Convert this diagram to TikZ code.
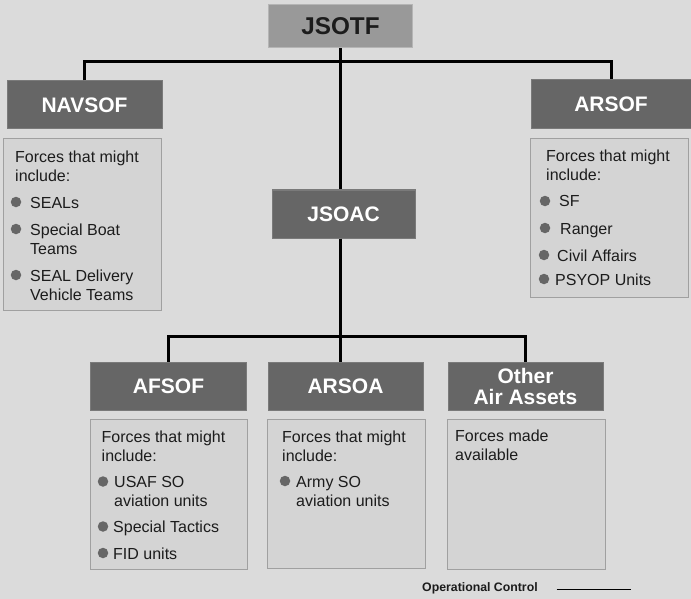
\documentclass[tikz,border=0pt]{standalone}
\usepackage{fontspec}
\setmainfont{Liberation Sans}
\definecolor{bgcol}{HTML}{DBDBDB}
\definecolor{boxcol}{HTML}{D4D4D4}
\definecolor{boxline}{HTML}{A0A0A0}
\definecolor{hdrcol}{HTML}{666666}
\definecolor{hdrline}{HTML}{7A7A7A}
\definecolor{topcol}{HTML}{999999}
\definecolor{topline}{HTML}{B5B5B5}
\definecolor{inkcol}{HTML}{1C1C1C}
\definecolor{dotcol}{HTML}{666666}
\tikzset{
  hdr/.style={rectangle, fill=hdrcol, draw=hdrline, line width=1pt, inner sep=0pt,
    minimum width=155pt, minimum height=48pt, text=white, align=center,
    font=\fontsize{21}{21}\selectfont\bfseries},
  topbox/.style={rectangle, fill=topcol, draw=topline, line width=1pt, inner sep=0pt,
    minimum width=144pt, minimum height=43pt, text=inkcol,
    font=\fontsize{24.3}{26}\selectfont\bfseries},
  panel/.style={rectangle, fill=boxcol, draw=boxline, line width=1pt, inner sep=0pt,
    minimum width=158pt},
  txt/.style={anchor=base west, inner sep=0pt, text=inkcol,
    font=\fontsize{16}{19}\selectfont},
  dot/.style={circle, fill=dotcol, inner sep=0pt, minimum size=10.5pt},
  conn/.style={line width=3pt, draw=black},
  legtxt/.style={anchor=base west, inner sep=0pt, text=inkcol,
    font=\fontsize{12.3}{14}\selectfont\bfseries},
}
\begin{document}
\begin{tikzpicture}[x=1pt, y=-1pt]
  % canvas
  \fill[bgcol] (0,0) rectangle (691,599);
  \useasboundingbox (0,0) rectangle (691,599);

  % command boxes
  \node[topbox] (jsotf) at (340.5,26.5) {JSOTF};
  \node[hdr] (navsof) at (84.5,105) {NAVSOF};
  \node[hdr, minimum width=160pt, minimum height=49pt] (arsof) at (611,104.5) {ARSOF};
  \node[hdr, minimum width=143pt] (jsoac) at (343.5,214) {JSOAC};
  \node[hdr, minimum width=156pt] (afsof) at (168.5,386) {AFSOF};
  \node[hdr] (arsoa) at (345.5,386) {ARSOA};
  \node[hdr] (other) at (525.5,386) {Other\\Air Assets};

  % force panels
  \node[panel, minimum height=171pt] (navc) at (82,224.5) {};
  \node[panel, minimum height=158pt] (arsofc) at (609,218) {};
  \node[panel, minimum width=157pt, minimum height=150pt] (afsofc) at (168.5,494) {};
  \node[panel, minimum height=149pt] (arsoac) at (346,493.5) {};
  \node[panel, minimum height=150pt] (otherc) at (526,494) {};

  % chain of command
  \coordinate (bus1) at (340.5,61.3);
  \coordinate (bus2) at (340.5,336.7);
  \draw[conn] (navsof.north) |- (bus1) -| (arsof.north);
  \draw[conn] (jsotf.south) -- (jsotf.south |- jsoac.north);
  \draw[conn] (jsotf.south |- jsoac.south) -- (bus2);
  \draw[conn] (afsof.north) |- (bus2) -| (other.north);
  \draw[conn] (bus2) -- (bus2 |- arsoa.north);

  % NAVSOF forces
  \node[txt] (n1) at (15,163) {Forces that might};
  \node[txt] (n2) at (15,182) {include:};
  \node[dot] (nd1) at (16,202) {};
  \node[txt] (n3) at (30,208) {SEALs};
  \node[dot] (nd2) at (16,229) {};
  \node[txt] (n4) at (30,235) {Special Boat};
  \node[txt] (n5) at (30,254) {Teams};
  \node[dot] (nd3) at (16,275) {};
  \node[txt] (n6) at (30,281) {SEAL Delivery};
  \node[txt] (n7) at (30,300) {Vehicle Teams};

  % ARSOF forces
  \node[txt] (a1) at (546,162) {Forces that might};
  \node[txt] (a2) at (546,181) {include:};
  \node[dot] (ad1) at (545,201) {};
  \node[txt] (a3) at (559,207) {SF};
  \node[dot] (ad2) at (545,228) {};
  \node[txt] (a4) at (560,234) {Ranger};
  \node[dot] (ad3) at (544,255) {};
  \node[txt] (a5) at (557,261) {Civil Affairs};
  \node[dot] (ad4) at (544,279) {};
  \node[txt] (a6) at (555,285) {PSYOP Units};

  % AFSOF forces
  \node[txt] (f1) at (101.5,442.5) {Forces that might};
  \node[txt] (f2) at (101.5,461.5) {include:};
  \node[dot] (fd1) at (103,481.5) {};
  \node[txt] (f3) at (114,487.5) {USAF SO};
  \node[txt] (f4) at (114,506.5) {aviation units};
  \node[dot] (fd2) at (103,526.5) {};
  \node[txt] (f5) at (113,532.5) {Special Tactics};
  \node[dot] (fd3) at (103,553) {};
  \node[txt] (f6) at (113,559) {FID units};

  % ARSOA forces
  \node[txt] (s1) at (282,442) {Forces that might};
  \node[txt] (s2) at (282,461) {include:};
  \node[dot] (sd1) at (285,481) {};
  \node[txt] (s3) at (296,487) {Army SO};
  \node[txt] (s4) at (296,506) {aviation units};

  % other air assets
  \node[txt] (o1) at (455,441.5) {Forces made};
  \node[txt] (o2) at (455,460.5) {available};

  % legend
  \node[legtxt] (leg) at (422,591) {Operational Control};
  \coordinate (legA) at (556.5,589.5);
  \coordinate (legB) at (631,589.5);
  \draw[line width=1.8pt] (legA) -- (legB);
\end{tikzpicture}
\end{document}
